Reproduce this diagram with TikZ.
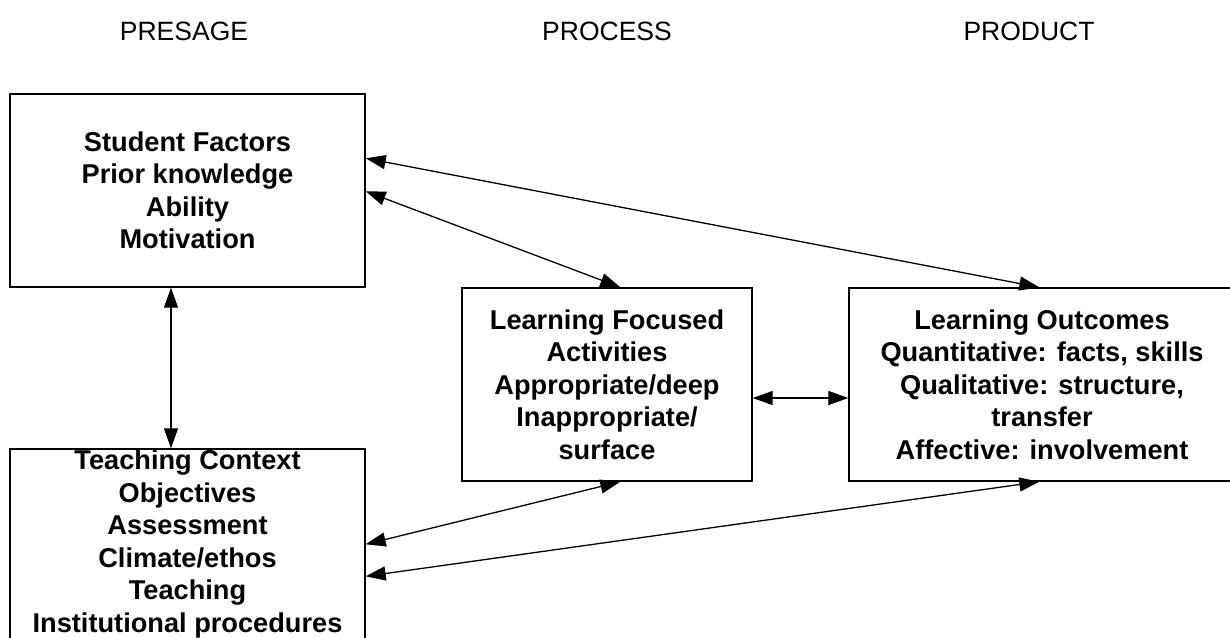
\documentclass[tikz,border=0pt]{standalone}
\usepackage{fontspec}
\setmainfont{Liberation Sans}
\usetikzlibrary{arrows.meta}
\begin{document}
\begin{tikzpicture}[x=1pt,y=-1pt,
  box/.style={draw=black, line width=1.4pt, rectangle, inner sep=0pt, align=center,
    font=\fontsize{27.2}{32.5}\selectfont\bfseries},
  head/.style={font=\fontsize{26.5}{30}\selectfont},
  link/.style={line width=1.3pt, {Triangle[length=20pt,width=14pt]}-{Triangle[length=20pt,width=14pt]}}]
\useasboundingbox (0,0) rectangle (1230,637);
\clip (0,0) rectangle (1230,637);
\node[head] (h1) at (184,31) {PRESAGE};
\node[head] (h2) at (607,31) {PROCESS};
\node[head] (h3) at (1029,31) {PRODUCT};
\node[box, minimum width=355pt, minimum height=193pt] (b1) at (187.5,190.5)
  {Student Factors\\Prior knowledge\\Ability\\Motivation};
\node[box, minimum width=355pt, minimum height=190pt] (b2) at (187.5,544)
  {Teaching Context\\Objectives\\Assessment\\Climate/ethos\\Teaching\\Institutional procedures};
\node[box, minimum width=290pt, minimum height=193pt] (b3) at (607,384.5)
  {Learning Focused\\Activities\\Appropriate/deep\\Inappropriate/\\surface};
\node[box, minimum width=386pt, minimum height=193pt] (b4) at (1042,384.5)
  {Learning Outcomes\\Quantitative: facts, skills\\Qualitative: structure,\\transfer\\Affective: involvement};
\draw[link] ([xshift=-16.5pt]b1.south) -- ([xshift=-16.5pt]b2.north);
\draw[link] ([yshift=-65pt]b1.north east) -- ([xshift=191pt]b4.north west);
\draw[link] ([yshift=-98pt]b1.north east) -- ([xshift=159pt]b3.north west);
\draw[link] ([yshift=-13.5pt]b3.east) -- ([yshift=-13.5pt]b4.west);
\draw[link] ([yshift=-96pt]b2.north east) -- ([xshift=159pt]b3.south west);
\draw[link] ([yshift=-128pt]b2.north east) -- ([xshift=191pt]b4.south west);
\end{tikzpicture}
\end{document}
